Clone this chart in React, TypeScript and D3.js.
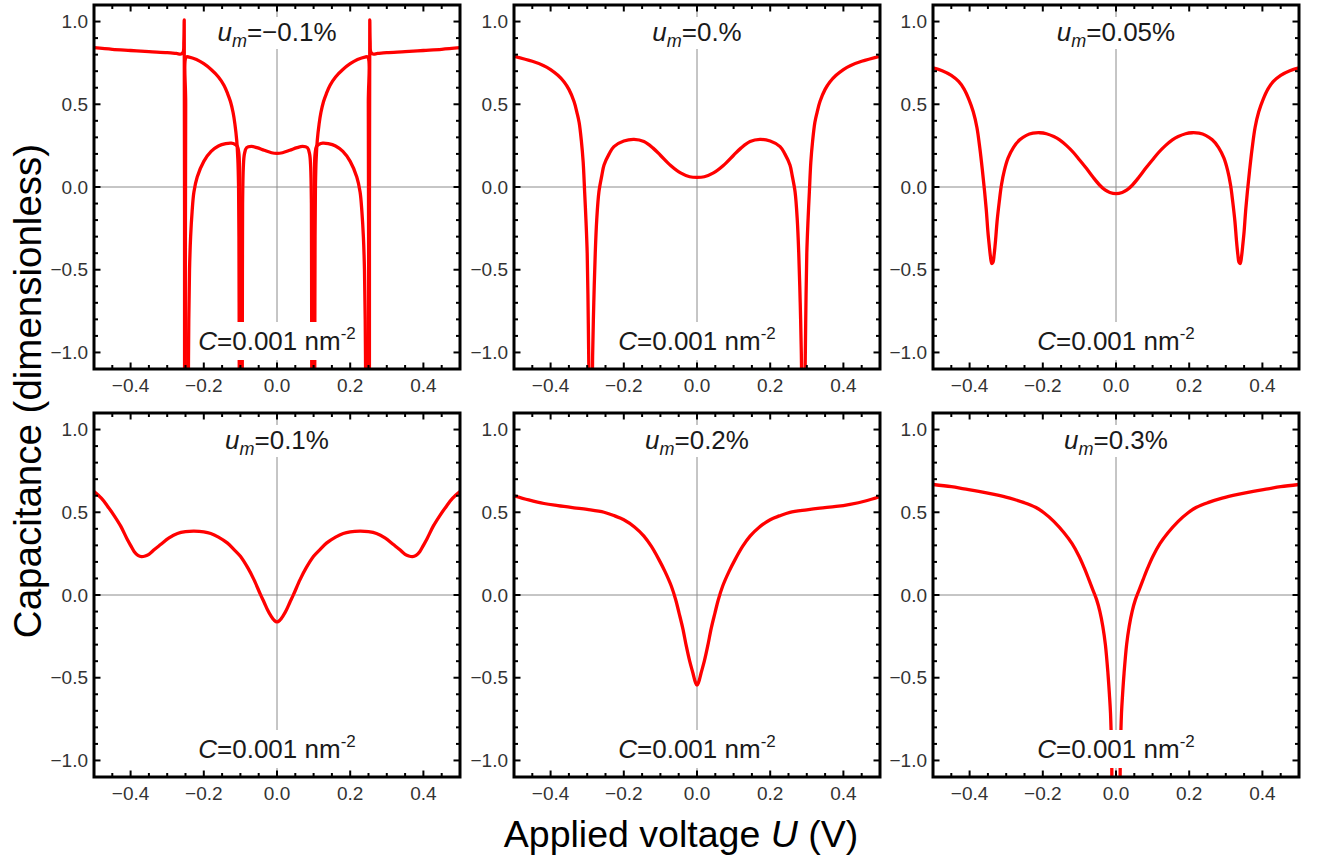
import * as d3 from 'd3';

// axis ticks (majors get labels)
const X_TICKS = [-0.4, -0.2, 0, 0.2, 0.4];
const Y_TICKS = [-1, -0.5, 0, 0.5, 1];

// panel labels (strain values)
const UM_LABELS = ['\u22120.1', '0.', '0.05', '0.1', '0.2', '0.3'];

type Pt = [number, number];

// u_m = -0.1% : several branches with poles
const p1OuterLeft: Pt[] = [
  [-0.5, 0.842], [-0.45, 0.832], [-0.4, 0.825], [-0.35, 0.818], [-0.3, 0.812],
  [-0.275, 0.807], [-0.262, 0.804], [-0.2565, 0.815], [-0.2545, 0.88], [-0.2535, 1.01],
  [-0.2525, -1.3],
];
const p1OuterMidL: Pt[] = [
  [-0.2505, -1.3], [-0.2495, 0.5], [-0.248, 0.785], [-0.24, 0.785], [-0.22, 0.77],
  [-0.2, 0.745], [-0.18, 0.71], [-0.16, 0.665], [-0.145, 0.615], [-0.135, 0.565],
  [-0.127, 0.515], [-0.12, 0.45], [-0.115, 0.38], [-0.11, 0.28], [-0.107, 0.17],
  [-0.105, 0.0], [-0.104, -0.3], [-0.1035, -0.7], [-0.103, -1.3],
];
const p1OuterMidR: Pt[] = [
  [0.103, -1.3], [0.1035, -0.7], [0.104, -0.3], [0.105, 0.0], [0.107, 0.17],
  [0.11, 0.28], [0.115, 0.38], [0.12, 0.45], [0.127, 0.515], [0.135, 0.565],
  [0.145, 0.615], [0.16, 0.665], [0.18, 0.71], [0.2, 0.745], [0.22, 0.77],
  [0.24, 0.785], [0.248, 0.785], [0.2495, 0.5], [0.2505, -1.3],
];
const p1OuterRight: Pt[] = [
  [0.2525, -1.3], [0.2535, 1.01], [0.2545, 0.88], [0.2565, 0.815], [0.262, 0.804],
  [0.275, 0.807], [0.3, 0.812], [0.35, 0.818], [0.4, 0.825], [0.45, 0.832], [0.5, 0.842],
];
const p1InnerLeft: Pt[] = [
  [-0.2425, -1.3], [-0.241, -0.8], [-0.239, -0.5], [-0.236, -0.3], [-0.232, -0.15],
  [-0.227, -0.03], [-0.218, 0.06], [-0.2, 0.155], [-0.18, 0.215], [-0.16, 0.248],
  [-0.14, 0.262], [-0.125, 0.265], [-0.115, 0.258], [-0.108, 0.245], [-0.104, 0.2],
  [-0.102, 0.0], [-0.1012, -0.5], [-0.1008, -1.3],
];
const p1InnerMid: Pt[] = [
  [-0.095, -1.3], [-0.0945, -0.5], [-0.094, -0.1], [-0.092, 0.12], [-0.089, 0.2],
  [-0.083, 0.238], [-0.07, 0.245], [-0.055, 0.238], [-0.035, 0.222], [-0.015, 0.207],
  [0, 0.203], [0.015, 0.207], [0.035, 0.222], [0.055, 0.238], [0.07, 0.245],
  [0.083, 0.238], [0.089, 0.2], [0.092, 0.12], [0.094, -0.1], [0.0945, -0.5], [0.095, -1.3],
];
const p1InnerRight: Pt[] = [
  [0.1008, -1.3], [0.1012, -0.5], [0.102, 0.0], [0.104, 0.2], [0.108, 0.245],
  [0.115, 0.258], [0.125, 0.265], [0.14, 0.262], [0.16, 0.248], [0.18, 0.215],
  [0.2, 0.155], [0.218, 0.06], [0.227, -0.03], [0.232, -0.15], [0.236, -0.3],
  [0.239, -0.5], [0.241, -0.8], [0.2425, -1.3],
];

// u_m = 0%
const p2: Pt[] = [
  [-0.5, 0.79], [-0.45, 0.76], [-0.42, 0.735], [-0.4, 0.71], [-0.38, 0.675],
  [-0.363, 0.635], [-0.35, 0.59], [-0.336, 0.517], [-0.328, 0.45], [-0.322, 0.39],
  [-0.316, 0.28], [-0.311, 0.15], [-0.307, -0.03], [-0.303, -0.22], [-0.3, -0.4],
  [-0.298, -0.65], [-0.296, -1.0], [-0.2945, -1.25], [-0.2905, -1.5], [-0.2865, -1.25],
  [-0.285, -1.0], [-0.282, -0.7], [-0.278, -0.4], [-0.274, -0.2], [-0.268, -0.03],
  [-0.26, 0.07], [-0.254, 0.133], [-0.24, 0.2], [-0.227, 0.244], [-0.2, 0.278],
  [-0.172, 0.288], [-0.145, 0.275], [-0.12, 0.235], [-0.1, 0.192], [-0.072, 0.13],
  [-0.045, 0.085], [-0.02, 0.062], [0, 0.058],
  [0.02, 0.062], [0.045, 0.085], [0.072, 0.13], [0.1, 0.192], [0.12, 0.235],
  [0.145, 0.275], [0.172, 0.288], [0.2, 0.278], [0.227, 0.244], [0.24, 0.2],
  [0.254, 0.133], [0.26, 0.07], [0.268, -0.03], [0.274, -0.2], [0.278, -0.4],
  [0.282, -0.7], [0.285, -1.0], [0.2865, -1.25], [0.2905, -1.5], [0.2945, -1.25],
  [0.296, -1.0], [0.298, -0.65], [0.3, -0.4], [0.303, -0.22], [0.307, -0.03],
  [0.311, 0.15], [0.316, 0.28], [0.322, 0.39], [0.328, 0.45], [0.336, 0.517],
  [0.35, 0.59], [0.363, 0.635], [0.38, 0.675], [0.4, 0.71], [0.42, 0.735],
  [0.45, 0.76], [0.5, 0.79],
];

// u_m = 0.05%
const p3: Pt[] = [
  [-0.5, 0.72], [-0.475, 0.703], [-0.45, 0.675], [-0.43, 0.638], [-0.415, 0.592],
  [-0.402, 0.53], [-0.39, 0.455], [-0.38, 0.36], [-0.372, 0.234], [-0.365, 0.1],
  [-0.359, -0.028], [-0.354, -0.15], [-0.35, -0.27], [-0.346, -0.36], [-0.343, -0.42],
  [-0.3395, -0.462], [-0.336, -0.455], [-0.333, -0.41], [-0.329, -0.32], [-0.325, -0.21],
  [-0.319, -0.09], [-0.313, 0.012], [-0.305, 0.1], [-0.295, 0.174], [-0.28, 0.24],
  [-0.263, 0.285], [-0.245, 0.312], [-0.227, 0.325], [-0.208, 0.328], [-0.19, 0.322],
  [-0.17, 0.305], [-0.154, 0.285], [-0.135, 0.25], [-0.117, 0.21], [-0.1, 0.165],
  [-0.081, 0.113], [-0.063, 0.06], [-0.045, 0.012], [-0.03, -0.018], [-0.017, -0.033],
  [0, -0.04],
  [0.017, -0.033], [0.03, -0.018], [0.045, 0.012], [0.063, 0.06], [0.081, 0.113],
  [0.1, 0.165], [0.117, 0.21], [0.135, 0.25], [0.154, 0.285], [0.17, 0.305],
  [0.19, 0.322], [0.208, 0.328], [0.227, 0.325], [0.245, 0.312], [0.263, 0.285],
  [0.28, 0.24], [0.295, 0.174], [0.305, 0.1], [0.313, 0.012], [0.319, -0.09],
  [0.325, -0.21], [0.329, -0.32], [0.333, -0.41], [0.336, -0.455], [0.3395, -0.462],
  [0.343, -0.42], [0.346, -0.36], [0.35, -0.27], [0.354, -0.15], [0.359, -0.028],
  [0.365, 0.1], [0.372, 0.234], [0.38, 0.36], [0.39, 0.455], [0.402, 0.53],
  [0.415, 0.592], [0.43, 0.638], [0.45, 0.675], [0.475, 0.703], [0.5, 0.72],
];

// u_m = 0.1%
const p4: Pt[] = [
  [-0.5, 0.625], [-0.48, 0.585], [-0.464, 0.54], [-0.445, 0.48], [-0.427, 0.416],
  [-0.41, 0.34], [-0.4, 0.3], [-0.39, 0.262], [-0.38, 0.24], [-0.37, 0.232],
  [-0.36, 0.236], [-0.35, 0.246], [-0.335, 0.275], [-0.318, 0.305], [-0.295, 0.345],
  [-0.272, 0.372], [-0.25, 0.383], [-0.227, 0.386], [-0.2, 0.382], [-0.181, 0.372],
  [-0.16, 0.35], [-0.136, 0.315], [-0.118, 0.276], [-0.1, 0.234], [-0.08, 0.165],
  [-0.063, 0.093], [-0.045, 0.002], [-0.035, -0.045], [-0.026, -0.089], [-0.017, -0.125],
  [-0.008, -0.152], [0, -0.163],
  [0.008, -0.152], [0.017, -0.125], [0.026, -0.089], [0.035, -0.045], [0.045, 0.002],
  [0.063, 0.093], [0.08, 0.165], [0.1, 0.234], [0.118, 0.276], [0.136, 0.315],
  [0.16, 0.35], [0.181, 0.372], [0.2, 0.382], [0.227, 0.386], [0.25, 0.383],
  [0.272, 0.372], [0.295, 0.345], [0.318, 0.305], [0.335, 0.275], [0.35, 0.246],
  [0.36, 0.236], [0.37, 0.232], [0.38, 0.24], [0.39, 0.262], [0.4, 0.3],
  [0.41, 0.34], [0.427, 0.416], [0.445, 0.48], [0.464, 0.54], [0.48, 0.585], [0.5, 0.625],
];

// u_m = 0.2%
const p5: Pt[] = [
  [-0.5, 0.6], [-0.46, 0.575], [-0.418, 0.553], [-0.38, 0.54], [-0.336, 0.527],
  [-0.3, 0.517], [-0.254, 0.5], [-0.225, 0.478], [-0.2, 0.455], [-0.17, 0.41],
  [-0.145, 0.356], [-0.125, 0.295], [-0.104, 0.214], [-0.087, 0.14], [-0.07, 0.053],
  [-0.058, -0.03], [-0.049, -0.109], [-0.039, -0.2], [-0.029, -0.311], [-0.02, -0.4],
  [-0.011, -0.473], [-0.004, -0.53], [0, -0.545],
  [0.004, -0.53], [0.011, -0.473], [0.02, -0.4], [0.029, -0.311], [0.039, -0.2],
  [0.049, -0.109], [0.058, -0.03], [0.07, 0.053], [0.087, 0.14], [0.104, 0.214],
  [0.125, 0.295], [0.145, 0.356], [0.17, 0.41], [0.2, 0.455], [0.225, 0.478],
  [0.254, 0.5], [0.3, 0.515], [0.336, 0.525], [0.38, 0.535], [0.418, 0.548],
  [0.46, 0.568], [0.5, 0.595],
];

// u_m = 0.3%
const p6: Pt[] = [
  [-0.5, 0.668], [-0.45, 0.655], [-0.415, 0.642], [-0.375, 0.627], [-0.333, 0.608],
  [-0.29, 0.585], [-0.251, 0.558], [-0.22, 0.53], [-0.197, 0.497], [-0.17, 0.445],
  [-0.142, 0.376], [-0.12, 0.31], [-0.101, 0.234], [-0.087, 0.165], [-0.074, 0.093],
  [-0.063, 0.03], [-0.053, -0.028], [-0.044, -0.1], [-0.036, -0.19], [-0.029, -0.3],
  [-0.022, -0.473], [-0.018, -0.6], [-0.015, -0.715], [-0.012, -0.95], [-0.0105, -1.2],
  [0, -1.8],
  [0.0105, -1.2], [0.012, -0.95], [0.015, -0.715], [0.018, -0.6], [0.022, -0.473],
  [0.029, -0.3], [0.036, -0.19], [0.044, -0.1], [0.053, -0.028], [0.063, 0.03],
  [0.074, 0.093], [0.087, 0.165], [0.101, 0.234], [0.12, 0.31], [0.142, 0.376],
  [0.17, 0.445], [0.197, 0.497], [0.22, 0.53], [0.251, 0.558], [0.29, 0.585],
  [0.333, 0.608], [0.375, 0.627], [0.415, 0.642], [0.45, 0.655], [0.5, 0.668],
];

const PANEL_CURVES: Pt[][][] = [
  [p1OuterLeft, p1OuterMidL, p1OuterMidR, p1OuterRight, p1InnerLeft, p1InnerMid, p1InnerRight],
  [p2],
  [p3],
  [p4],
  [p5],
  [p6],
];

const FONT = '"Liberation Sans", Arial, Helvetica, sans-serif';
const fmt = (v: number) => (v < 0 ? '\u2212' : '') + Math.abs(v).toFixed(1);

export default function App() {
  const width = 1319;
  const height = 863;
  const pw = 366;
  const ph = 364;
  const cols = [94, 514, 933];
  const rows = [5, 413];

  const x = d3.scaleLinear().domain([-0.5, 0.5]).range([0, pw]);
  const y = d3.scaleLinear().domain([-1.1, 1.1]).range([ph, 0]);

  const line = d3.line<Pt>()
    .x(d => x(d[0]))
    .y(d => y(d[1]))
    .curve(d3.curveCatmullRom.alpha(0.5));

  const minorX = x.ticks(20);
  const minorY = y.ticks(22);
  const isMajor = (v: number, majors: number[]) => majors.some(m => Math.abs(m - v) < 1e-6);

  return (
    <svg
      width={width}
      height={height}
      style={{ position: 'absolute', left: 0, top: 0, background: '#fff' }}
      fontFamily={FONT}
    >
      <defs>
        <clipPath id="plotclip">
          <rect x={0} y={0} width={pw} height={ph} />
        </clipPath>
      </defs>

      {PANEL_CURVES.map((segs, i) => {
        const px = cols[i % 3];
        const py = rows[Math.floor(i / 3)];
        return (
          <g key={i} transform={`translate(${px},${py})`}>
            {/* zero axes */}
            <line x1={x(0)} x2={x(0)} y1={0} y2={ph} stroke="#8c8c8c" strokeWidth={1} />
            <line x1={0} x2={pw} y1={y(0)} y2={y(0)} stroke="#8c8c8c" strokeWidth={1} />

            {/* curves */}
            <g clipPath="url(#plotclip)">
              {segs.map((s, j) => (
                <path key={j} d={line(s) || ''} fill="none" stroke="#ff0000" strokeWidth={3.3}
                  strokeLinejoin="round" strokeLinecap="round" />
              ))}
            </g>

            {/* labels with white backing */}
            <rect x={x(0) - 64} y={12} width={128} height={32} fill="#fff" />
            <text x={x(0)} y={36} textAnchor="middle" fontSize={26} fill="#1a1a1a">
              <tspan fontStyle="italic">u</tspan>
              <tspan fontStyle="italic" fontSize={18} dy={6}>m</tspan>
              <tspan dy={-6}>={UM_LABELS[i]}%</tspan>
            </text>

            <rect x={x(0) - 86} y={ph - 47} width={172} height={38} fill="#fff" />
            <text x={x(0)} y={ph - 19} textAnchor="middle" fontSize={26} fill="#1a1a1a">
              <tspan fontStyle="italic">C</tspan>
              <tspan>=0.001 nm</tspan>
              <tspan fontSize={17} dy={-11}>-2</tspan>
            </text>

            {/* ticks on all four sides */}
            {minorX.map((v, k) => {
              const len = isMajor(v, X_TICKS) ? 6.5 : 4;
              return (
                <g key={'x' + k}>
                  <line x1={x(v)} x2={x(v)} y1={ph} y2={ph - len} stroke="#000" strokeWidth={2} />
                  <line x1={x(v)} x2={x(v)} y1={0} y2={len} stroke="#000" strokeWidth={2} />
                </g>
              );
            })}
            {minorY.map((v, k) => {
              const len = isMajor(v, Y_TICKS) ? 6.5 : 4;
              return (
                <g key={'y' + k}>
                  <line x1={0} x2={len} y1={y(v)} y2={y(v)} stroke="#000" strokeWidth={2} />
                  <line x1={pw} x2={pw - len} y1={y(v)} y2={y(v)} stroke="#000" strokeWidth={2} />
                </g>
              );
            })}

            {/* frame */}
            <rect x={0} y={0} width={pw} height={ph} fill="none" stroke="#000" strokeWidth={3} />

            {/* tick labels */}
            {X_TICKS.map(v => (
              <text key={'xl' + v} x={x(v)} y={ph + 23} textAnchor="middle" fontSize={19} fill="#333">
                {fmt(v)}
              </text>
            ))}
            {Y_TICKS.map(v => (
              <text key={'yl' + v} x={-6} y={y(v)} dy="0.35em" textAnchor="end" fontSize={19} fill="#333">
                {fmt(v)}
              </text>
            ))}
          </g>
        );
      })}

      {/* axis titles */}
      <text x={681} y={847} textAnchor="middle" fontSize={37.5} fill="#000">
        Applied voltage <tspan fontStyle="italic">U</tspan> (V)
      </text>
      <text transform="translate(41,391) rotate(-90)" textAnchor="middle" fontSize={38.5} fill="#000">
        Capacitance (dimensionless)
      </text>
    </svg>
  );
}
